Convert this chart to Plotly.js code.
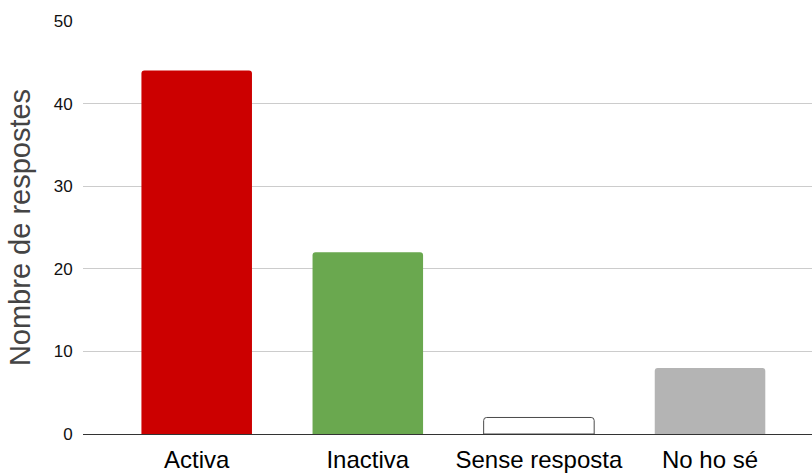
<!DOCTYPE html>
<html>
<head>
<meta charset="utf-8">
<script src="https://cdn.plot.ly/plotly-3.0.1.min.js"></script>
<style>html,body{margin:0;padding:0;background:#fff;}#chart{width:812px;height:474px;}</style>
</head>
<body>
<div id="chart"></div>
<script>
var categories = ["Activa", "Inactiva", "Sense resposta", "No ho sé"];
var responses = [44, 22, 2, 8];
var barColors = ["#cc0000", "#6aa84f", "#ffffff", "#b4b4b4"];
var lineColors = ["#cc0000", "#6aa84f", "#4a4a4a", "#b4b4b4"];
var yTicks = [0, 10, 20, 30, 40, 50];

var trace = {
  type: "bar",
  x: categories,
  y: responses,
  width: 0.646,
  marker: {
    color: barColors,
    line: {color: lineColors, width: [0, 0, 1, 0]},
    cornerradius: 3
  },
  hoverinfo: "x+y"
};

var layout = {
  width: 812,
  height: 474,
  margin: {l: 83, r: 0, t: 21, b: 40},
  paper_bgcolor: "#ffffff",
  plot_bgcolor: "#ffffff",
  showlegend: false,
  font: {family: "Liberation Sans, Arial, sans-serif", color: "#000"},
  xaxis: {
    type: "category",
    range: [-0.6645, 3.596],
    showgrid: false,
    showline: false,
    zeroline: false,
    ticks: "outside",
    ticklen: 4,
    tickcolor: "rgba(0,0,0,0)",
    tickfont: {size: 24, color: "#000"},
    fixedrange: true
  },
  yaxis: {
    range: [0, 50],
    tickvals: yTicks,
    ticktext: yTicks.map(String),
    showgrid: true,
    gridcolor: "#cccccc",
    gridwidth: 1,
    zeroline: true,
    zerolinecolor: "#333333",
    zerolinewidth: 1,
    showline: false,
    ticks: "outside",
    ticklen: 6,
    tickcolor: "rgba(0,0,0,0)",
    tickfont: {size: 17, color: "#111"},
    title: {text: "Nombre de respostes", font: {size: 29, color: "#444444"}, standoff: 14},
    fixedrange: true
  }
};

Plotly.newPlot("chart", [trace], layout, {displayModeBar: false, staticPlot: true});
</script>
</body>
</html>
